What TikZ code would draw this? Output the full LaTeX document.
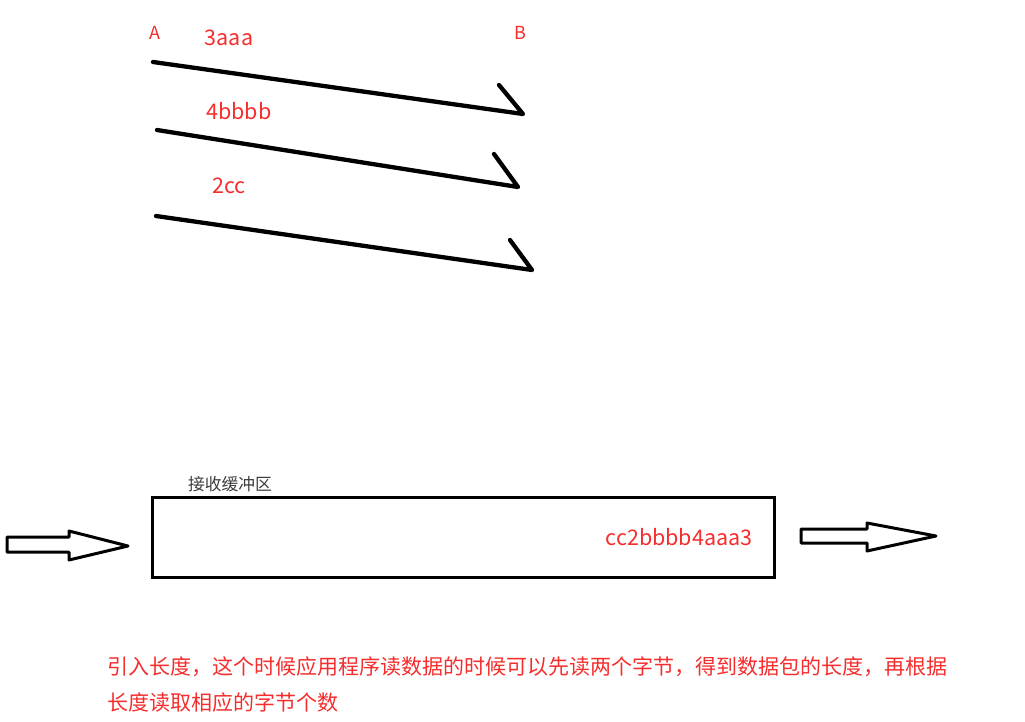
\documentclass[tikz,border=0pt]{standalone}
\usepackage{fontspec}
\setmainfont{Noto Sans CJK SC}
\definecolor{myred}{RGB}{245,45,45}
\definecolor{mygray}{RGB}{60,60,60}
\tikzset{
  stroke/.style={line width=4.3pt, line cap=round, line join=round, black},
  lbl/.style={text=myred, font=\fontsize{21.5}{24}\selectfont, inner sep=0pt},
  endlbl/.style={text=myred, font=\fontsize{18}{20}\selectfont, inner sep=0pt},
  hollow/.style={line width=3pt, line join=round, fill=white, draw=black},
  note/.style={text=myred, font=\fontsize{21}{36}\selectfont, inner sep=0pt, align=left, anchor=north west}
}
\begin{document}
\begin{tikzpicture}[x=1pt,y=-1pt]
\useasboundingbox (0,0) rectangle (1025,722);
% labels
\node[endlbl] (A) at (155,33) {A};
\node[endlbl] (B) at (520,33) {B};
\node[lbl] (l1) at (229,38) {3aaa};
\node[lbl] (l2) at (239,111) {4bbbb};
\node[lbl] (l3) at (229,186) {2cc};
% sketched arrows
\coordinate (s1) at (153,62);  \coordinate (t1) at (523,114); \coordinate (h1) at (499,85);
\coordinate (s2) at (157,130); \coordinate (t2) at (518,187); \coordinate (h2) at (494,154);
\coordinate (s3) at (156,216); \coordinate (t3) at (532,270); \coordinate (h3) at (510,240);
\draw[stroke] (s1) -- (t1) -- (h1);
\draw[stroke] (s2) -- (t2) -- (h2);
\draw[stroke] (s3) -- (t3) -- (h3);
% buffer
\node[draw=black, line width=3pt, minimum width=622pt, minimum height=80pt, inner sep=0pt] (buf) at (463.5,537.5) {};
\node[text=mygray, font=\fontsize{16.8}{18}\selectfont, inner sep=0pt] (buflbl) at (230,484) {接收缓冲区};
\node[lbl] (content) at (679,537) {cc2bbbb4aaa3};
% hollow arrows
\draw[hollow] (7,537) -- (69,537) -- (69,531) -- (128,546) -- (69,560) -- (69,552) -- (7,552) -- cycle;
\draw[hollow] (801,529) -- (867,529) -- (867,523) -- (936,536) -- (867,551) -- (867,543) -- (801,543) -- cycle;
% note
\node[note] (note) at (107,656) {引入长度，这个时候应用程序读数据的时候可以先读两个字节，得到数据包的长度，再根据\\长度读取相应的字节个数};
\end{tikzpicture}
\end{document}
